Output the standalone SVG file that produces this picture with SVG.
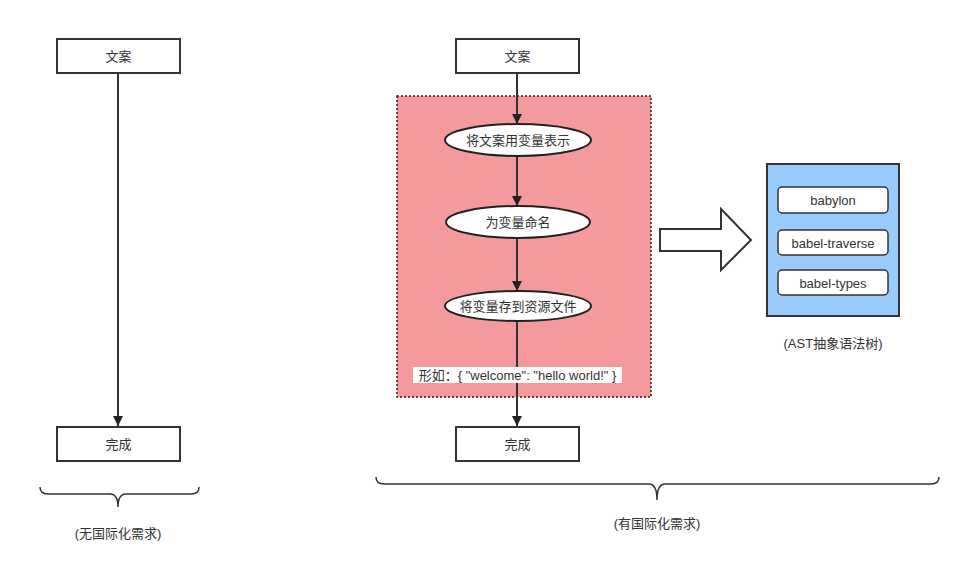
<svg xmlns="http://www.w3.org/2000/svg" width="977" height="569" viewBox="0 0 977 569">
<defs>
<style>
text{font-family:"Liberation Sans","Noto Sans CJK SC",sans-serif;font-size:13px;fill:#333;text-anchor:middle;dominant-baseline:central}
.box{fill:#fff;stroke:#333;stroke-width:2}
.ell{fill:#fff;stroke:#222;stroke-width:2}
.edge{stroke:#333;stroke-width:2;fill:none}
.brace{stroke:#333;stroke-width:1.5;fill:none}
.pill{fill:#fff;stroke:#333;stroke-width:1.5}
</style>
<marker id="ah" viewBox="0 0 10 10" refX="10" refY="5" markerWidth="10" markerHeight="10" markerUnits="userSpaceOnUse" orient="auto">
<path d="M0,0 L10,5 L0,10 Z" fill="#222"/>
</marker>
</defs>
<rect width="977" height="569" fill="#fff"/>

<g id="region">
<rect x="397" y="96" width="254" height="301" fill="#F59A9C" stroke="#3a1a1a" stroke-width="1.5" stroke-dasharray="2 2"/>
</g>

<g id="connectors">
<line class="edge" x1="118" y1="74" x2="118" y2="426" marker-end="url(#ah)"/>
<line class="edge" x1="517" y1="74" x2="517" y2="124" marker-end="url(#ah)"/>
<line class="edge" x1="517" y1="156" x2="517" y2="206" marker-end="url(#ah)"/>
<line class="edge" x1="517" y1="238" x2="517" y2="291" marker-end="url(#ah)"/>
<line class="edge" x1="517" y1="321" x2="517" y2="426" marker-end="url(#ah)"/>
</g>

<g id="left-start"><rect class="box" x="57" y="39" width="123" height="34"/><text x="118.5" y="56">文案</text></g>
<g id="left-end"><rect class="box" x="57" y="427" width="123" height="34"/><text x="118.5" y="444">完成</text></g>
<g id="left-brace"><path class="brace" d="M40,487 Q40,494 48,494 L110,494 Q118,494 118,507 Q118,494 126,494 L191,494 Q199,494 199,487"/></g>
<text id="left-caption" x="118" y="533">(无国际化需求)</text>

<g id="right-start"><rect class="box" x="456" y="39" width="123" height="34"/><text x="517.5" y="56">文案</text></g>
<g id="step1"><ellipse class="ell" cx="518" cy="140" rx="73" ry="16"/><text x="518" y="140">将文案用变量表示</text></g>
<g id="step2"><ellipse class="ell" cx="518" cy="222" rx="72" ry="16"/><text x="518" y="222">为变量命名</text></g>
<g id="step3"><ellipse class="ell" cx="518" cy="306" rx="73" ry="15"/><text x="518" y="306">将变量存到资源文件</text></g>
<g id="example"><rect x="413" y="367" width="209" height="16" fill="#fff"/><text x="517.5" y="375">形如：{ "welcome": "hello world!" }</text></g>
<g id="right-end"><rect class="box" x="456" y="427" width="123" height="34"/><text x="517.5" y="444">完成</text></g>
<g id="right-brace"><path class="brace" d="M376,477 Q376,484 384,484 L649,484 Q657,484 657,500 Q657,484 665,484 L931,484 Q939,484 939,477"/></g>
<text id="right-caption" x="657" y="523">(有国际化需求)</text>

<g id="big-arrow"><path d="M660,229 L721,229 L721,209 L751,240 L721,270 L721,251 L660,251 Z" fill="#fff" stroke="#333" stroke-width="2"/></g>
<g id="ast">
<rect x="767" y="164" width="132" height="152" fill="#99CBFD" stroke="#333" stroke-width="2"/>
<g id="babylon"><rect class="pill" x="778" y="187" width="110" height="26" rx="4"/><text x="833" y="200">babylon</text></g>
<g id="babel-traverse"><rect class="pill" x="778" y="230" width="110" height="25" rx="4"/><text x="833" y="243">babel-traverse</text></g>
<g id="babel-types"><rect class="pill" x="778" y="270" width="110" height="25" rx="4"/><text x="833" y="283">babel-types</text></g>
</g>
<text id="ast-caption" x="833" y="343">(AST抽象语法树)</text>
</svg>
